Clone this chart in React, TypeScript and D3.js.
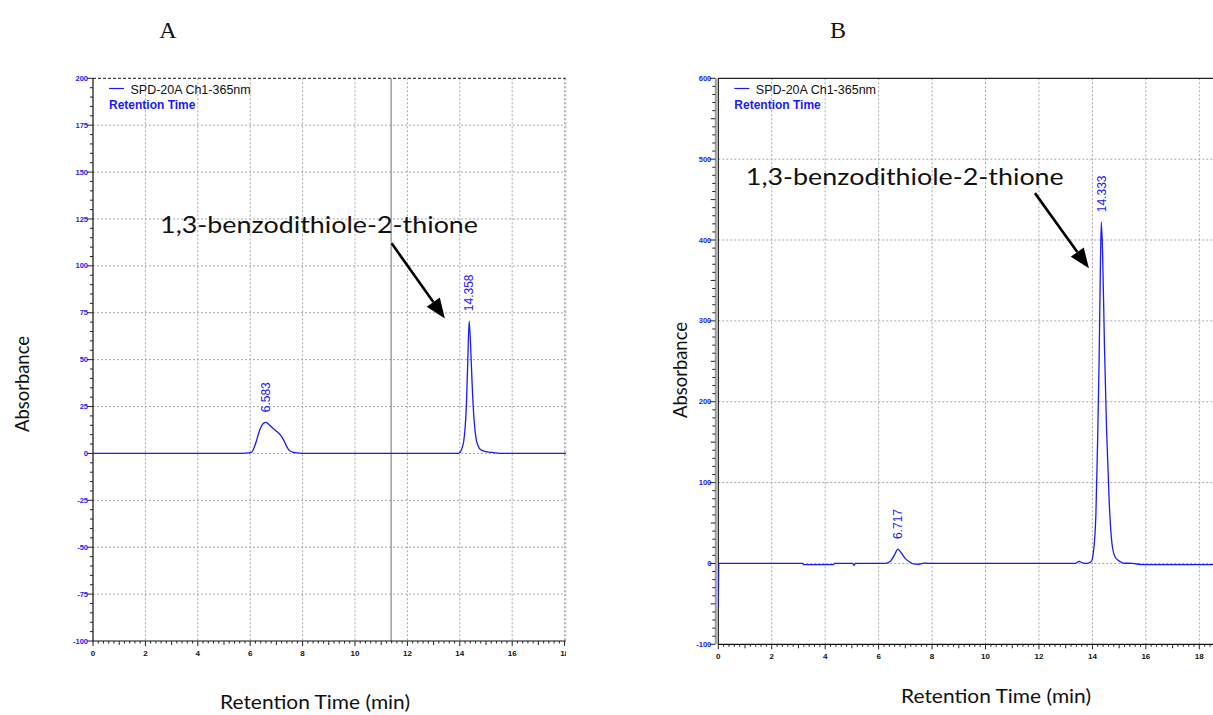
import React from 'react';
import * as d3 from 'd3';

// ---------- Data ----------
const timeA = [0, 5.5, 5.9, 6.05, 6.2, 6.35, 6.5, 6.6, 6.75, 6.9, 7.05, 7.2, 7.3, 7.4, 7.5, 7.65, 7.9, 8.0,
  13.95, 14.05, 14.15, 14.2, 14.25, 14.3, 14.358, 14.42, 14.48, 14.55, 14.62, 14.7, 14.8, 15.0, 15.3, 15.6, 18.1];
const absA = [0, 0, 0.3, 0.6, 5, 12, 16, 16.6, 15, 13, 11.3, 9, 6.5, 3.5, 1.5, 0.6, 0.2, 0,
  0, 1.5, 6.5, 13, 25, 47, 70.5, 55, 34, 17, 8, 4, 2, 1, 0.4, 0, 0];

const timeB = [0, 0.02, 3.15, 3.2, 4.3, 4.35, 5.03, 5.08, 5.13, 6.25, 6.45, 6.6, 6.717, 6.85, 7.0, 7.15, 7.3, 7.5, 7.7, 7.85,
  13.35, 13.5, 13.65, 13.8, 13.95, 14.03, 14.13, 14.2, 14.25, 14.3, 14.333, 14.38, 14.45, 14.53, 14.63, 14.73, 14.85, 15.0, 15.15, 15.5, 15.9, 18.6];
const absB = [-55, 0, 0, -1.5, -1.5, 0, 0, -2.5, 0, 0, 3, 11, 17.8, 13, 6, 2, -0.5, -1, 0.5, 0,
  0, 2.5, 0.5, 0, 2, 12, 60, 160, 250, 370, 422, 385, 270, 165, 75, 25, 8, 3, 0.5, 0, -1.5, -1.5];

const peaksA = [6.583, 14.358];
const peakHeightsA = [16.6, 70.5];
const peaksB = [6.717, 14.333];
const peakHeightsB = [17.8, 422];

const xTicks = [0, 2, 4, 6, 8, 10, 12, 14, 16, 18];
const yTicksA = [-100, -75, -50, -25, 0, 25, 50, 75, 100, 125, 150, 175, 200];
const yTicksB = [-100, 0, 100, 200, 300, 400, 500, 600];

const compound = '1,3-benzodithiole-2-thione';
const legendName = 'SPD-20A Ch1-365nm';
const legendSub = 'Retention Time';

const BLUE = '#1a1aff';
const GRID = '#a8a8a8';

type Cfg = {
  id: string;
  time: number[];
  abs: number[];
  peaks: number[];
  peakHeights: number[];
  yTicks: number[];
  xMax: number;
  yMin: number;
  yMax: number;
  left: number;
  right: number;
  top: number;
  bottom: number;
  yMinorStep: number;
  yMidStep: number;
  topSolid: boolean;
  annot: { tx: number; ty: number; ax1: number; ay1: number; ax2: number; ay2: number };
  cursor?: number;
  letter: string;
  letterX: number;
  ylabX: number;
  ylabY: number;
  xlabX: number;
  xlabY: number;
};

const cfgA: Cfg = {
  id: 'A', time: timeA, abs: absA, peaks: peaksA, peakHeights: peakHeightsA, yTicks: yTicksA,
  xMax: 18.05, yMin: -100, yMax: 200, left: 93, right: 565.9, top: 78.3, bottom: 641,
  yMinorStep: 5, yMidStep: 25, topSolid: false,
  annot: { tx: 2.56, ty: 117.5, ax1: 11.4, ay1: 112, ax2: 13.43, ay2: 72 },
  cursor: 11.38, letter: 'A', letterX: 168, ylabX: 22, ylabY: 384, xlabX: 315, xlabY: 709,
};
const cfgB: Cfg = {
  id: 'B', time: timeB, abs: absB, peaks: peaksB, peakHeights: peakHeightsB, yTicks: yTicksB,
  xMax: 18.55, yMin: -100, yMax: 600, left: 718.3, right: 1214, top: 78.3, bottom: 644.3,
  yMinorStep: 10, yMidStep: 50, topSolid: true,
  annot: { tx: 1.03, ty: 468, ax1: 11.85, ay1: 458, ax2: 13.87, ay2: 365 },
  letter: 'B', letterX: 838, ylabX: 680, ylabY: 370, xlabX: 996, xlabY: 703,
};

function Panel({ c }: { c: Cfg }) {
  const x = d3.scaleLinear().domain([0, c.xMax]).range([c.left, c.right]);
  const y = d3.scaleLinear().domain([c.yMin, c.yMax]).range([c.bottom, c.top]);
  const pts: [number, number][] = c.time.map((t, i) => [t, c.abs[i]]);
  const line = d3.line<[number, number]>().x(d => x(d[0])).y(d => y(d[1])).curve(d3.curveMonotoneX);
  const xMinor = d3.range(0, c.xMax + 0.001, 0.2);
  const yMinor = d3.range(c.yMin, c.yMax + 0.001, c.yMinorStep);
  const clipId = 'clip' + c.id;
  const labClip = 'lab' + c.id;
  const a = c.annot;
  const ax1 = x(a.ax1), ay1 = y(a.ay1), ax2 = x(a.ax2), ay2 = y(a.ay2);
  const ang = Math.atan2(ay2 - ay1, ax2 - ax1);
  const hl = 20, hw = 8;
  const bx = ax2 - hl * Math.cos(ang), by = ay2 - hl * Math.sin(ang);
  const head = `M${ax2},${ay2} L${bx + hw * Math.sin(ang)},${by - hw * Math.cos(ang)} L${bx - hw * Math.sin(ang)},${by + hw * Math.cos(ang)} Z`;

  return (
    <g>
      <defs>
        <clipPath id={clipId}>
          <rect x={c.left} y={c.top - 1} width={c.right - c.left} height={c.bottom - c.top + 2} />
        </clipPath>
        <clipPath id={labClip}>
          <rect x={c.left - 30} y={c.bottom} width={c.right - c.left + 30} height={30} />
        </clipPath>
      </defs>
      {/* grid */}
      {xTicks.filter(t => t > 0).map(t => (
        <line key={'gx' + t} x1={x(t)} x2={x(t)} y1={c.top} y2={c.bottom} stroke={GRID} strokeDasharray="2,2" />
      ))}
      {c.yTicks.filter(v => v > c.yMin && v < c.yMax).map(v => (
        <line key={'gy' + v} x1={c.left} x2={c.right} y1={y(v)} y2={y(v)} stroke={GRID} strokeDasharray="2,2" />
      ))}
      {/* frame */}
      {c.topSolid ? (
        <line x1={c.left} x2={c.right} y1={c.top} y2={c.top} stroke="#222" strokeWidth={1.2} />
      ) : (
        <line x1={c.left} x2={c.right} y1={c.top} y2={c.top} stroke="#444" strokeDasharray="3,2" strokeWidth={1.2} />
      )}
      {!c.topSolid && (
        <line x1={c.right} x2={c.right} y1={c.top} y2={c.bottom} stroke={GRID} strokeDasharray="2,2" />
      )}
      {c.cursor !== undefined && (
        <line x1={x(c.cursor)} x2={x(c.cursor)} y1={c.top} y2={c.bottom} stroke="#a0a0a0" strokeWidth={1.5} />
      )}
      {c.topSolid && (
        <line x1={c.left - 2.5} x2={c.left - 2.5} y1={c.top} y2={c.bottom} stroke="#999" strokeWidth={2} />
      )}
      <line x1={c.left} x2={c.left} y1={c.top} y2={c.bottom + 0.5} stroke="#111" strokeWidth={1.2} />
      <line x1={c.left} x2={c.right} y1={c.bottom} y2={c.bottom} stroke="#111" strokeWidth={1.2} />
      {/* y ticks */}
      {yMinor.map(v => {
        const major = c.yTicks.includes(v);
        const mid = !major && Math.abs(v % c.yMidStep) < 1e-6;
        const len = major ? 6 : mid ? 4.5 : 3;
        return <line key={'yt' + v} x1={c.left - len - (c.topSolid ? 3 : 0)} x2={c.left - (c.topSolid ? 3 : 0)} y1={y(v)} y2={y(v)} stroke="#222" strokeWidth={1} />;
      })}
      {c.yTicks.map(v => (
        <text key={'yl' + v} x={c.left - (c.topSolid ? 7 : 5)} y={y(v)} dy="0.35em" textAnchor="end"
          fontFamily="'Liberation Sans', Arial, sans-serif" fontWeight="bold" fontSize={7.5} fill={BLUE}>{v}</text>
      ))}
      {/* x ticks */}
      {xMinor.map((t, i) => {
        const major = i % 10 === 0;
        const mid = !major && i % 5 === 0;
        const len = major ? 5 : mid ? 4 : 2.5;
        return <line key={'xt' + i} x1={x(t)} x2={x(t)} y1={c.bottom} y2={c.bottom + len} stroke="#222" strokeWidth={1} />;
      })}
      <g clipPath={`url(#${labClip})`}>
        {xTicks.map(t => (
          <text key={'xl' + t} x={x(t)} y={c.bottom + 15} textAnchor="middle"
            fontFamily="'Liberation Sans', Arial, sans-serif" fontWeight="bold" fontSize={8} fill="#111">{t}</text>
        ))}
      </g>
      {/* trace */}
      <path d={line(pts) || ''} fill="none" stroke={BLUE} strokeWidth={1.3} clipPath={`url(#${clipId})`} />
      {/* peak labels */}
      {c.peaks.map((p, i) => (
        <text key={'pk' + p} transform={`translate(${x(p)},${y(c.peakHeights[i]) - 10}) rotate(-90)`} dy="0.35em"
          fontFamily="'Liberation Sans', Arial, sans-serif" fontSize={12} fill={BLUE}>{p.toFixed(3)}</text>
      ))}
      {/* legend */}
      <line x1={c.left + 16} x2={c.left + 31} y1={88.5} y2={88.5} stroke={BLUE} strokeWidth={1.2} />
      <text x={c.left + 37.5} y={93.5} fontFamily="'Liberation Sans', Arial, sans-serif" fontSize={12.5} fill="#111">{legendName}</text>
      <text x={c.left + 16} y={108.5} fontFamily="'Liberation Sans', Arial, sans-serif" fontWeight="bold" fontSize={12} fill={BLUE}>{legendSub}</text>
      {/* annotation */}
      <text x={x(a.tx)} y={y(a.ty)} fontFamily="Lato, 'Open Sans', sans-serif" fontSize={24} fill="#111"
        textLength={318} lengthAdjust="spacingAndGlyphs">{compound}</text>
      <line x1={ax1} y1={ay1} x2={bx} y2={by} stroke="#000" strokeWidth={2.6} />
      <path d={head} fill="#000" />
      {/* titles */}
      <text x={c.letterX} y={38} textAnchor="middle" fontFamily="'Liberation Serif', 'Times New Roman', serif" fontSize={24} fill="#111">{c.letter}</text>
      <text transform={`translate(${c.ylabX + 7},${c.ylabY}) rotate(-90)`} textAnchor="middle" fontFamily="Lato, 'Open Sans', sans-serif" fontSize={20} fill="#111"
        textLength={96} lengthAdjust="spacingAndGlyphs">Absorbance</text>
      <text x={c.xlabX} y={c.xlabY} textAnchor="middle" fontFamily="Lato, 'Open Sans', sans-serif" fontSize={20} fill="#111"
        textLength={190} lengthAdjust="spacingAndGlyphs">Retention Time (min)</text>
    </g>
  );
}

export default function App() {
  return (
    <svg width={1213} height={715} style={{ position: 'absolute', left: 0, top: 0, background: '#fff' }}>
      <rect x={0} y={0} width={1213} height={715} fill="#fff" />
      <Panel c={cfgA} />
      <Panel c={cfgB} />
    </svg>
  );
}
